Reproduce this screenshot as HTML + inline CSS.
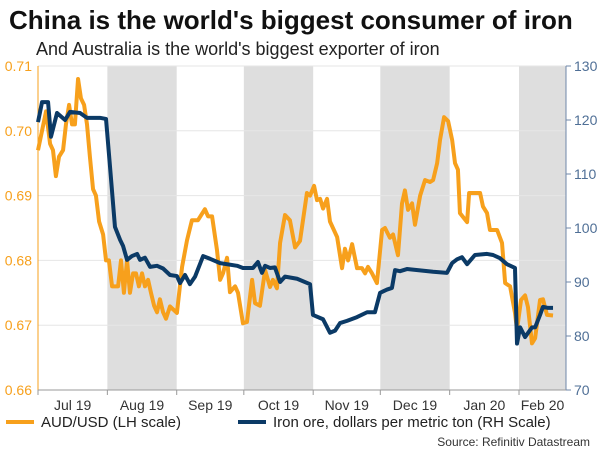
<!DOCTYPE html>
<html><head><meta charset="utf-8"><style>
body{margin:0;background:#fff;font-family:"Liberation Sans",Arial,sans-serif}
</style></head><body>
<svg id="c" width="600" height="450" style="display:block">
<text x="9" y="29" font-size="26" font-weight="bold" fill="#111">China is the world's biggest consumer of iron</text>
<text x="36" y="55" font-size="18" fill="#222">And Australia is the world's biggest exporter of iron</text>
<g id="bands"></g><g id="grid"></g><g id="axes"></g><g id="series"></g>
<g>
<line x1="6" y1="422" x2="34" y2="422" stroke="#f7a01c" stroke-width="4"/>
<text x="41" y="427" font-size="15" fill="#222">AUD/USD (LH scale)</text>
<line x1="238" y1="422" x2="266" y2="422" stroke="#0b3a66" stroke-width="4"/>
<text x="273" y="427" font-size="15" fill="#222">Iron ore, dollars per metric ton (RH Scale)</text>
</g>
<text x="590" y="446" font-size="12" fill="#333" text-anchor="end">Source: Refinitiv Datastream</text>
</svg>
<script>
const audDays=[0,1.8,3.6,5.4,6.7,8,9.4,11.2,12.5,13.9,15.2,16.5,17.9,19.2,20.6,21.9,23.2,24.6,25.9,27.3,29.1,30.4,31.7,33.1,34.4,35.8,37.1,38.4,39.8,41.1,42.5,43.8,45.1,46.5,47.8,49.2,50.5,51.9,53.2,54.5,55.9,57.2,59,62.1,64.4,66.6,68.8,71.5,74.6,76,77.8,80,81.4,82.7,84.5,85.8,88.1,89.4,91.6,93.4,95.7,97,99.2,101.5,103.7,105,106.8,108.2,110.4,112.6,114.9,117.1,120.2,121.6,123.4,124.7,126.1,127.4,129.2,130.5,133.7,135.9,137.2,138.6,140.4,142.6,144.8,146.2,147.5,149.3,151.5,153.8,155.1,157.3,158.7,160.9,162.7,164,165.4,167.2,168.5,170.8,173,175.2,176.6,178.4,179.7,181.5,183.3,185.1,186.4,187.7,188.6,191.8,192.7,195.3,197.6,198.9,200.7,202,205.2,207.4,208.8,211,213.2,214.1,215.9,217.7,219,220.8,222.2,224.4,225.7,227.5,230.2];
const audValues=[0.697,0.700,0.703,0.698,0.697,0.693,0.696,0.697,0.701,0.704,0.701,0.701,0.708,0.705,0.704,0.701,0.696,0.691,0.690,0.686,0.684,0.680,0.680,0.676,0.676,0.676,0.680,0.675,0.680,0.675,0.678,0.678,0.676,0.678,0.676,0.677,0.675,0.673,0.672,0.674,0.672,0.671,0.6729,0.6719,0.679,0.6831,0.6862,0.6862,0.6879,0.6868,0.6868,0.6816,0.677,0.678,0.6804,0.6751,0.676,0.675,0.6703,0.6705,0.677,0.6734,0.673,0.6785,0.6759,0.677,0.6757,0.6827,0.687,0.6862,0.682,0.683,0.6904,0.690,0.6915,0.6893,0.6895,0.688,0.6895,0.686,0.6836,0.6788,0.6818,0.680,0.6825,0.6788,0.6788,0.678,0.679,0.678,0.6765,0.6847,0.685,0.6835,0.684,0.6808,0.6888,0.6908,0.6878,0.6888,0.6855,0.690,0.6924,0.6921,0.6924,0.695,0.6986,0.7021,0.7015,0.6986,0.695,0.694,0.6873,0.6859,0.6904,0.6904,0.6904,0.6883,0.6873,0.6847,0.6847,0.6827,0.6765,0.676,0.6719,0.6693,0.6739,0.6746,0.6728,0.6672,0.668,0.6739,0.674,0.6716,0.6715];
const ironDays=[0,1.8,4.5,5.8,8.5,12.1,14.3,18.8,21.9,27.7,30.4,32.2,34.4,36.7,38,39.8,42,44.3,45.6,47.8,50.1,53.2,55.9,59,62.1,63.5,65.7,67.9,70.2,73.8,76.9,81.4,89,91.6,96.1,98.3,100.1,101.5,103.7,105.9,108.2,110.4,115.8,121.6,122.9,127.4,130.5,132.8,135,138.1,142.6,147.1,150.6,152.9,156,158.2,159.6,161.8,164.9,176.6,182.8,185.1,187.3,189.5,191.8,195.3,200.7,203.4,206.5,209.6,213.2,214.1,215.5,217.7,220.8,222.2,224.4,225.7,228,230.2];
const ironValues=[119.6,123.3,123.3,116.9,121.3,120,121.5,121.3,120.4,120.4,120.2,111.3,100.2,97.8,96.7,94.1,94.8,95.2,94.1,94.5,92.8,93,92.5,91.3,91.1,89.8,91.3,89.6,91,94.8,94.3,93.5,93,92.6,92.6,93.7,91.7,93,92.6,92.7,90,91,90.6,89.6,83.9,83.1,80.6,81,82.4,82.8,83.5,84.4,84.4,88,88.6,88.9,92.2,92,92.4,91.9,91.7,93.5,94.2,94.6,93.3,95,95.2,95,94.4,93.3,92.6,78.6,81.6,79.8,81.6,81.6,83.9,85.4,85.2,85.2];
const leftTicks=[0.66,0.67,0.68,0.69,0.70,0.71];
const rightTicks=[70,80,90,100,110,120,130];
const monthStarts=[0,31,62,92,123,153,184,215];
const monthLabels=["Jul 19","Aug 19","Sep 19","Oct 19","Nov 19","Dec 19","Jan 20","Feb 20"];
const shadedMonths=[1,3,5,7];

const X0=38,X1=566,Y0=66,Y1=390,DAYS_END=236;
const xs=d=>X0+d*(X1-X0)/DAYS_END;
const yl=v=>Y1-(v-0.66)/(0.71-0.66)*(Y1-Y0);
const yr=v=>Y1-(v-70)/(130-70)*(Y1-Y0);
const NS='http://www.w3.org/2000/svg';
function mk(tag,attrs,parent){const e=document.createElementNS(NS,tag);for(const k in attrs)e.setAttribute(k,attrs[k]);document.getElementById(parent).appendChild(e);return e;}

shadedMonths.forEach(i=>{
 const a=xs(monthStarts[i]),b=i+1<monthStarts.length?xs(monthStarts[i+1]):X1;
 const r=mk('rect',{x:a,y:Y0,width:b-a,height:Y1-Y0,fill:'#dedede'},'bands');
 
 
});
leftTicks.forEach(t=>{
 const y=yl(t);
 const g=mk('line',{x1:X0,x2:X1,y1:y,y2:y,stroke:'#e6e6e6','stroke-width':1},'grid');
 
 
 const tx=mk('text',{x:X0-6,y:y+5,'font-size':14,fill:'#f7a01c','text-anchor':'end'},'axes');
 tx.textContent=t.toFixed(2);
 
 
});
rightTicks.forEach(t=>{
 const y=yr(t);
 mk('line',{x1:X1,x2:X1+5,y1:y,y2:y,stroke:'#6f87a8'},'axes');
 const tx=mk('text',{x:X1+8,y:y+5,'font-size':14,fill:'#4f6f96'},'axes');
 tx.textContent=t;
 
 
});
const la=mk('line',{x1:X0,x2:X0,y1:Y0,y2:Y1,stroke:'#f7a01c'},'axes');


const ra=mk('line',{x1:X1,x2:X1,y1:Y0,y2:Y1,stroke:'#6f87a8'},'axes');


const ba=mk('line',{x1:X0,x2:X1,y1:Y1,y2:Y1,stroke:'#999'},'axes');


monthStarts.forEach((d,i)=>{
 const x=xs(d);
 mk('line',{x1:x,x2:x,y1:Y1,y2:Y1+5,stroke:'#999'},'axes');
 const nx=i+1<monthStarts.length?xs(monthStarts[i+1]):X1;
 const tx=mk('text',{x:(x+nx)/2,y:Y1+20,'font-size':14,fill:'#333','text-anchor':'middle'},'axes');
 tx.textContent=monthLabels[i];
 
 
});
const audPath=mk('polyline',{points:audDays.map((d,i)=>xs(d)+','+yl(audValues[i])).join(' '),fill:'none',stroke:'#f7a01c','stroke-width':4,'stroke-linejoin':'round'},'series');


const ironPath=mk('polyline',{points:ironDays.map((d,i)=>xs(d)+','+yr(ironValues[i])).join(' '),fill:'none',stroke:'#0b3a66','stroke-width':4,'stroke-linejoin':'round'},'series');


</script>
</body></html>
